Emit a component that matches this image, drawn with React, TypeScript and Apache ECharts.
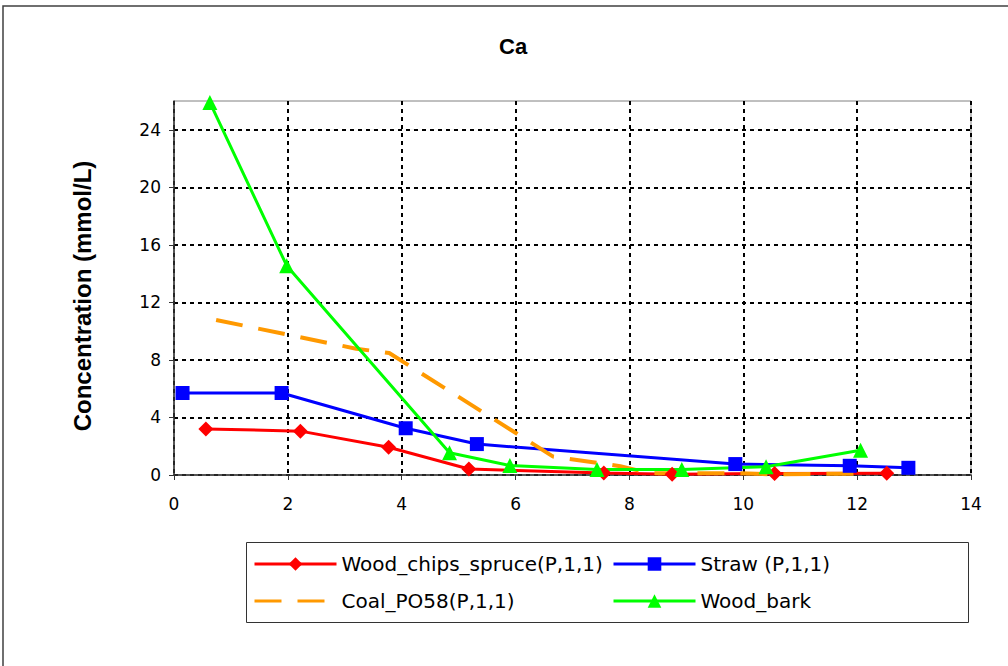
import React, { useEffect, useRef } from "react";
import * as echarts from "echarts";

const chartTitle = "Ca";
const yAxisTitle = "Concentration (mmol/L)";

const xTicks = [0, 2, 4, 6, 8, 10, 12, 14];
const yTicks = [0, 4, 8, 12, 16, 20, 24];

const seriesNames = [
  "Wood_chips_spruce(P,1,1)",
  "Straw (P,1,1)",
  "Coal_PO58(P,1,1)",
  "Wood_bark",
];

const woodChipsX = [0.56, 2.22, 3.77, 5.18, 7.55, 8.75, 10.55, 12.52];
const woodChipsY = [3.2, 3.05, 1.93, 0.42, 0.14, 0.06, 0.1, 0.12];

const strawX = [0.15, 1.89, 4.07, 5.32, 9.86, 11.87, 12.9];
const strawY = [5.7, 5.7, 3.25, 2.15, 0.76, 0.64, 0.5];

const coalX = [0.74, 3.2, 3.78, 6.66, 7.84, 8.36, 9.9, 10.5, 12.1];
const coalY = [10.78, 8.78, 8.48, 1.28, 0.61, 0.12, 0.13, 0.05, 0.1];

const woodBarkX = [0.63, 1.98, 4.84, 5.9, 7.43, 8.92, 10.4, 12.06];
const woodBarkY = [25.9, 14.55, 1.55, 0.66, 0.38, 0.38, 0.58, 1.72];

const zip = (xs: number[], ys: number[]) => xs.map((x, i) => [x, ys[i]]);

export default function App() {
  const ref = useRef<HTMLDivElement>(null);
  useEffect(() => {
    if (!ref.current) return;
    const chart = echarts.init(ref.current, null, { renderer: "svg" });
    const tickFont = { fontFamily: "DejaVu Sans", fontSize: 17, color: "#000" };
    const gridDash = { color: "#000", width: 2, type: [4, 4] as any };
    const legendCommon = {
      orient: "vertical",
      top: 548,
      itemWidth: 82,
      itemHeight: 17,
      itemGap: 15,
      lineStyle: { width: 3 },
      textStyle: { fontFamily: "DejaVu Sans", fontSize: 20, color: "#000", lineHeight: 22 },
    };
    const option: any = {
      animation: false,
      backgroundColor: "#fff",
      title: {
        text: chartTitle,
        left: 494,
        top: 30,
        textStyle: { fontFamily: "Liberation Sans", fontWeight: "bold", fontSize: 22, color: "#000" },
      },
      grid: {
        left: 174,
        top: 101,
        width: 797,
        height: 374,
        show: true,
        borderColor: "#808080",
        borderWidth: 1,
        backgroundColor: "transparent",
      },
      xAxis: {
        type: "value",
        min: xTicks[0],
        max: xTicks[xTicks.length - 1],
        interval: 2,
        axisLine: { show: true, lineStyle: { color: "#333", width: 1.5 } },
        axisTick: { show: true, length: 5, lineStyle: { color: "#333" } },
        axisLabel: { ...tickFont, margin: 20 },
        splitLine: { show: true, lineStyle: gridDash },
      },
      yAxis: {
        type: "value",
        min: yTicks[0],
        max: 26,
        interval: 4,
        axisLine: { show: true, lineStyle: { color: "#333", width: 1.5 } },
        axisTick: { show: true, length: 5, lineStyle: { color: "#333" } },
        axisLabel: { ...tickFont, margin: 13, showMaxLabel: false },
        splitLine: {
          show: true,
          lineStyle: {
            ...gridDash,
            color: ["#000", "#000", "#000", "#000", "#000", "#000", "#000", "rgba(0,0,0,0)"],
          },
        },
      },
      legend: [
        {
          ...legendCommon,
          left: 248,
          data: [
            seriesNames[0],
            { name: seriesNames[2], itemStyle: { opacity: 0 } },
          ],
        },
        {
          ...legendCommon,
          left: 607,
          data: [seriesNames[1], seriesNames[3]],
        },
      ],
      graphic: [
        {
          type: "rect",
          shape: { x: 3, y: 6, width: 1100, height: 700 },
          style: { fill: "none", stroke: "#404040", lineWidth: 1.5 },
          z: -10,
          silent: true,
        },
        {
          type: "rect",
          shape: { x: 246.5, y: 542.5, width: 722, height: 80 },
          style: { fill: "#fff", stroke: "#333", lineWidth: 1 },
          z: -1,
          silent: true,
        },
        {
          type: "text",
          x: 82,
          y: 296,
          rotation: Math.PI / 2,
          style: {
            text: yAxisTitle,
            fontFamily: "Liberation Sans",
            fontWeight: "bold",
            fontSize: 24,
            fill: "#000",
            textAlign: "center",
            textVerticalAlign: "middle",
          },
        },
      ],
      series: [
        {
          name: seriesNames[0],
          type: "line",
          data: zip(woodChipsX, woodChipsY),
          symbol: "diamond",
          symbolSize: 15,
          color: "#ff0000",
          lineStyle: { color: "#ff0000", width: 3 },
          itemStyle: { color: "#ff0000" },
        },
        {
          name: seriesNames[1],
          type: "line",
          data: zip(strawX, strawY),
          symbol: "rect",
          symbolSize: 14,
          color: "#0000ff",
          lineStyle: { color: "#0000ff", width: 3 },
          itemStyle: { color: "#0000ff" },
        },
        {
          name: seriesNames[2],
          type: "line",
          data: zip(coalX, coalY),
          symbol: "none",
          showSymbol: false,
          color: "#ff9900",
          lineStyle: { color: "#ff9900", width: 4, type: [27, 16] },
          itemStyle: { color: "#ff9900" },
        },
        {
          name: seriesNames[3],
          type: "line",
          data: zip(woodBarkX, woodBarkY),
          symbol: "triangle",
          symbolSize: 15,
          color: "#00ff00",
          lineStyle: { color: "#00ff00", width: 3 },
          itemStyle: { color: "#00ff00" },
        },
      ],
    };
    chart.setOption(option);
    return () => chart.dispose();
  }, []);
  return (
    <div
      ref={ref}
      style={{ position: "absolute", left: 0, top: 0, width: 1008, height: 666 }}
    />
  );
}
